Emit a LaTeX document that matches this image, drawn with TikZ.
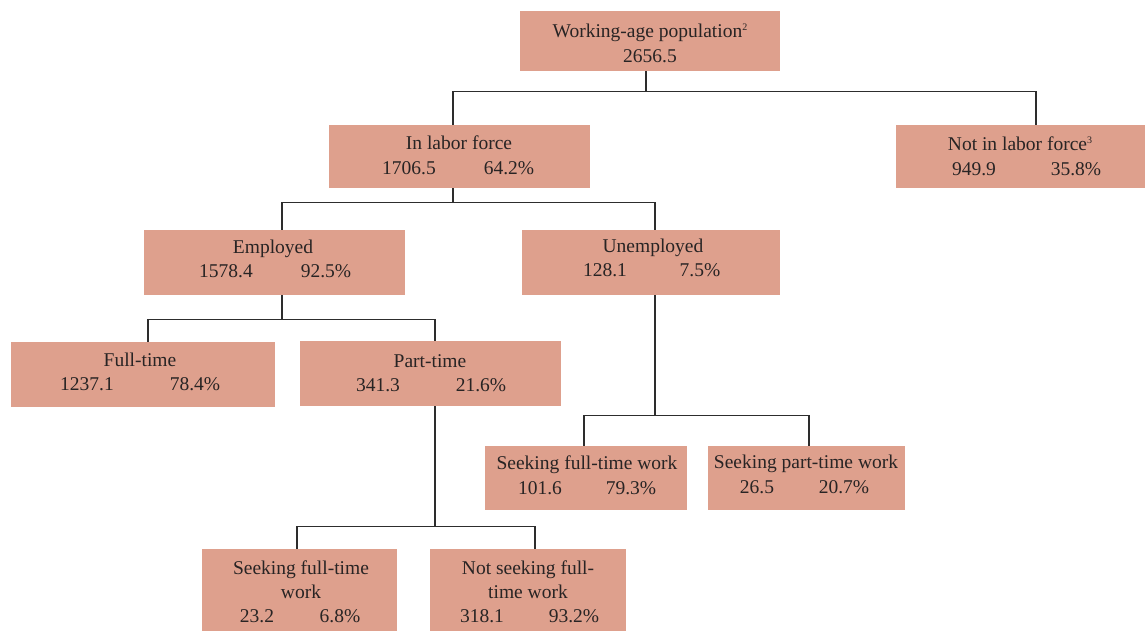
\documentclass[tikz,border=0pt]{standalone}
\usepackage{fontspec}
\setmainfont{Liberation Serif}
\definecolor{boxfill}{RGB}{222,160,141}
\definecolor{linecol}{RGB}{45,45,45}
\definecolor{txtcol}{RGB}{40,36,36}
\newcommand{\supnum}[1]{\raisebox{7pt}{\fontsize{10}{10}\selectfont #1}}
\begin{document}
\begin{tikzpicture}[x=1pt,y=-1pt,
  box/.style={fill=boxfill, draw=none, inner sep=0pt},
  txt/.style={anchor=base, inner sep=0pt, font=\fontsize{19.5}{23}\selectfont, text=txtcol},
  conn/.style={draw=linecol, line width=1.3pt}]
\useasboundingbox (0,0) rectangle (1145,631);

% boxes
\node[box, minimum width=260pt, minimum height=60pt] (wa)   at (650,41)    {};
\node[box, minimum width=261pt, minimum height=63pt] (ilf)  at (459.5,156.5) {};
\node[box, minimum width=249pt, minimum height=63pt] (nilf) at (1020.5,156.5) {};
\node[box, minimum width=261pt, minimum height=65pt] (emp)  at (274.5,262.5) {};
\node[box, minimum width=258pt, minimum height=65pt] (une)  at (651,262.5) {};
\node[box, minimum width=264pt, minimum height=65pt] (ft)   at (143,374.5) {};
\node[box, minimum width=261pt, minimum height=65pt] (pt)   at (430.5,373.5) {};
\node[box, minimum width=202pt, minimum height=64pt] (sft)  at (586,478) {};
\node[box, minimum width=197pt, minimum height=64pt] (spt)  at (806.5,478) {};
\node[box, minimum width=195pt, minimum height=82pt] (sfw)  at (299.5,590) {};
\node[box, minimum width=196pt, minimum height=82pt] (nsf)  at (528,590) {};

% connectors
\draw[conn] ([xshift=-4pt]wa.south) -- ++(0,21);
\draw[conn] ([xshift=-6.5pt]ilf.north) -- ++(0,-33) -| ([xshift=15.5pt]nilf.north);
\draw[conn] ([xshift=-6.5pt]ilf.south) -- ++(0,15);
\draw[conn] ([xshift=7.5pt]emp.north) -- ++(0,-27) -| ([xshift=4pt]une.north);
\draw[conn] ([xshift=7.5pt]emp.south) -- ++(0,25);
\draw[conn] ([xshift=5pt]ft.north) -- ++(0,-22) -| ([xshift=4.5pt]pt.north);
\draw[conn] ([xshift=4pt]une.south) -- ++(0,121);
\draw[conn] ([xshift=-2pt]sft.north) -- ++(0,-30) -| ([xshift=2.5pt]spt.north);
\draw[conn] ([xshift=4.5pt]pt.south) -- ++(0,121);
\draw[conn] ([xshift=-2.5pt]sfw.north) -- ++(0,-22) -| ([xshift=7pt]nsf.north);

% texts
\node[txt] (wat)  at (650,38)  {Working-age population\supnum{2}};
\node[txt] (wan)  at (650,63)  {2656.5};

\node[txt] (ilft) at (459,150) {In labor force};
\node[txt] (ilfa) at (409,175) {1706.5};
\node[txt] (ilfb) at (509,175) {64.2\%};

\node[txt] (nilft) at (1020,151) {Not in labor force\supnum{3}};
\node[txt] (nilfa) at (974,176)  {949.9};
\node[txt] (nilfb) at (1076,176) {35.8\%};

\node[txt] (empt) at (273,253) {Employed};
\node[txt] (empa) at (226,277) {1578.4};
\node[txt] (empb) at (326,277) {92.5\%};

\node[txt] (unet) at (653,252) {Unemployed};
\node[txt] (unea) at (605,276) {128.1};
\node[txt] (uneb) at (700,276) {7.5\%};

\node[txt] (ftt) at (140,366) {Full-time};
\node[txt] (fta) at (87,390)  {1237.1};
\node[txt] (ftb) at (195,390) {78.4\%};

\node[txt] (ptt) at (430,367) {Part-time};
\node[txt] (pta) at (378,391) {341.3};
\node[txt] (ptb) at (481,391) {21.6\%};

\node[txt] (sftt) at (587,469) {Seeking full-time work};
\node[txt] (sfta) at (540,494) {101.6};
\node[txt] (sftb) at (631,494) {79.3\%};

\node[txt] (sptt) at (806,468) {Seeking part-time work};
\node[txt] (spta) at (757,493) {26.5};
\node[txt] (sptb) at (844,493) {20.7\%};

\node[txt] (sfwt) at (301,574) {Seeking full-time};
\node[txt] (sfwu) at (301,598) {work};
\node[txt] (sfwa) at (257,622) {23.2};
\node[txt] (sfwb) at (340,622) {6.8\%};

\node[txt] (nsft) at (528,574) {Not seeking full-};
\node[txt] (nsfu) at (528,598) {time work};
\node[txt] (nsfa) at (482,622) {318.1};
\node[txt] (nsfb) at (574,622) {93.2\%};
\end{tikzpicture}
\end{document}
